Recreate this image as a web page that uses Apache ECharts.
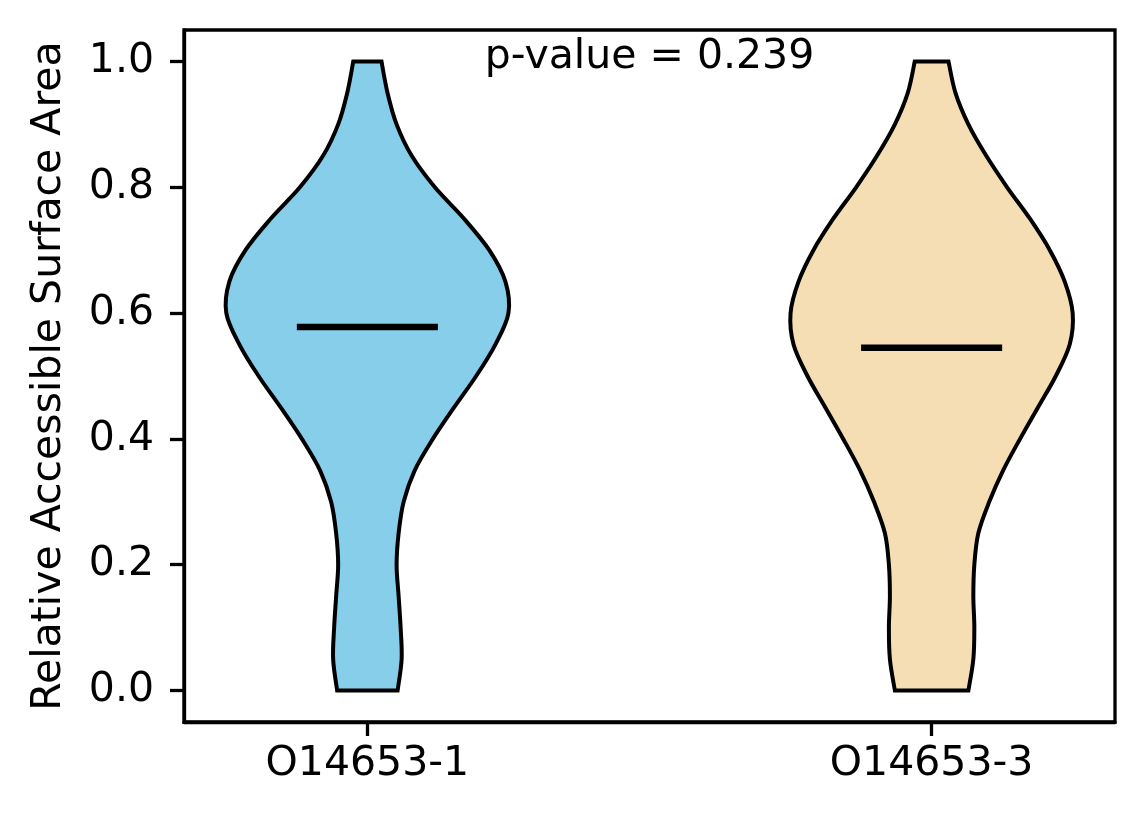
<!DOCTYPE html>
<html>
<head>
<meta charset="utf-8">
<script src="https://cdn.jsdelivr.net/npm/echarts@6/dist/echarts.min.js"></script>
<style>
  html, body { margin: 0; padding: 0; background: #fff; }
  #chart { width: 1144px; height: 824px; }
</style>
</head>
<body>
<div id="chart"></div>
<script>
// groups and where they sit on the x axis
var categories = ['O14653-1', 'O14653-3'];
var positions = [1, 2];
var colors = ['#87CEEB', '#F5DEB3'];

// kernel density (arbitrary units, scaled per violin)
var densityY = [0, 0.05, 0.1, 0.15, 0.2, 0.25, 0.3, 0.35, 0.4, 0.45, 0.5,
                0.55, 0.6, 0.65, 0.7, 0.75, 0.8, 0.85, 0.9, 0.95, 1.0];
var densityA = [30, 34, 33, 31, 29, 31, 36, 47, 65, 86, 108,
                127, 140, 137, 121, 96, 67, 44, 29, 20, 14];
var densityB = [37, 42, 43, 42, 43, 47, 58, 72, 89, 107, 125,
                139, 142, 134, 119, 99, 76, 55, 37, 24, 17];
var medians = [0.578, 0.545];

var yTicks = [0, 0.2, 0.4, 0.6, 0.8, 1.0];
var pValue = 0.239;

var FONT = 'DejaVu Sans';
var densities = [densityA, densityB];

// catmull-rom through the points -> svg path segments
function spline(pts) {
  var d = '';
  for (var i = 0; i < pts.length - 1; i++) {
    var p0 = pts[Math.max(i - 1, 0)], p1 = pts[i], p2 = pts[i + 1], p3 = pts[Math.min(i + 2, pts.length - 1)];
    var c1x = p1[0] + (p2[0] - p0[0]) / 6, c1y = p1[1] + (p2[1] - p0[1]) / 6;
    var c2x = p2[0] - (p3[0] - p1[0]) / 6, c2y = p2[1] - (p3[1] - p1[1]) / 6;
    d += ' C' + c1x + ',' + c1y + ' ' + c2x + ',' + c2y + ' ' + p2[0] + ',' + p2[1];
  }
  return d;
}

function renderViolin(params, api) {
  var i = api.value(0);
  var pos = positions[i];
  var dens = densities[i];
  var max = Math.max.apply(null, dens);
  var right = [], left = [];
  for (var k = 0; k < densityY.length; k++) {
    var hw = 0.25 * dens[k] / max;
    right.push(api.coord([pos + hw, densityY[k]]));
    left.push(api.coord([pos - hw, densityY[k]]));
  }
  left.reverse();
  var d = 'M' + right[0][0] + ',' + right[0][1] + spline(right) +
          ' L' + left[0][0] + ',' + left[0][1] + spline(left) + ' Z';
  var m0 = api.coord([pos - 0.125, medians[i]]);
  var m1 = api.coord([pos + 0.125, medians[i]]);
  return {
    type: 'group',
    children: [
      { type: 'path', shape: { pathData: d },
        style: { fill: colors[i], stroke: '#000', lineWidth: 4, lineJoin: 'miter' } },
      { type: 'line', shape: { x1: m0[0], y1: m0[1], x2: m1[0], y2: m1[1] },
        style: { stroke: '#000', lineWidth: 6.5 } }
    ]
  };
}

function renderNote(params, api) {
  var p = api.coord([1.5, 1.0]);
  return {
    type: 'text',
    style: {
      text: 'p-value = ' + pValue.toFixed(3),
      x: p[0], y: p[1] - 4,
      align: 'center', verticalAlign: 'middle',
      fontFamily: FONT, fontSize: 41, fill: '#000'
    }
  };
}

var chart = echarts.init(document.getElementById('chart'), null, { renderer: 'canvas' });
chart.setOption({
  animation: false,
  backgroundColor: '#fff',
  grid: { left: 184, right: 29, top: 30, bottom: 102, show: true,
          borderColor: '#000', borderWidth: 3.3, backgroundColor: 'transparent' },
  xAxis: {
    type: 'value', min: 0.675, max: 2.325,
    splitLine: { show: false },
    axisLine: { onZero: false, lineStyle: { color: '#000', width: 3.3 } },
    axisTick: { customValues: positions, length: 14, lineStyle: { color: '#000', width: 3.3 } },
    axisLabel: { customValues: positions, margin: 22, color: '#000', fontFamily: FONT, fontSize: 41,
                 formatter: function (v) { return categories[positions.indexOf(v)]; } }
  },
  yAxis: {
    type: 'value', min: -0.05, max: 1.05,
    name: 'Relative Accessible Surface Area',
    nameLocation: 'middle', nameGap: 114,
    nameTextStyle: { color: '#000', fontFamily: FONT, fontSize: 41 },
    splitLine: { show: false },
    axisLine: { show: true, onZero: false, lineStyle: { color: '#000', width: 3.3 } },
    axisTick: { show: true, customValues: yTicks, length: 14, lineStyle: { color: '#000', width: 3.3 } },
    axisLabel: { customValues: yTicks, margin: 30, color: '#000', fontFamily: FONT, fontSize: 41,
                 formatter: function (v) { return v.toFixed(1); } }
  },
  series: [
    { type: 'custom', renderItem: renderViolin, data: [[0], [1]], encode: { x: -1, y: -1 } },
    { type: 'custom', renderItem: renderNote, data: [[0]], encode: { x: -1, y: -1 } }
  ]
});
</script>
</body>
</html>
